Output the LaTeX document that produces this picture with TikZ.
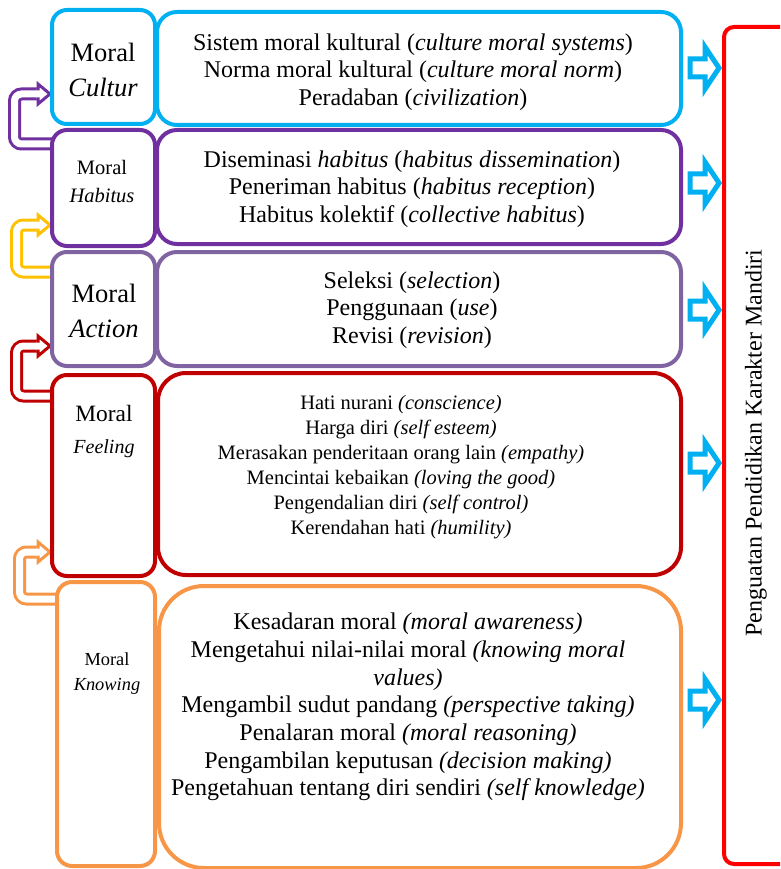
\documentclass[tikz,border=0pt]{standalone}
\usepackage{fontspec}
\setmainfont{Liberation Serif}
\usetikzlibrary{calc}

\definecolor{cCyan}{HTML}{00B0F0}
\definecolor{cPurple}{HTML}{7030A0}
\definecolor{cLav}{HTML}{8064A2}
\definecolor{cDarkRed}{HTML}{C00000}
\definecolor{cOrange}{HTML}{F79646}
\definecolor{cRed}{HTML}{FF0000}
\definecolor{cGold}{HTML}{FFC000}

\newcommand\fs[2]{\fontsize{#1}{#2}\selectfont}

% outlined U-shaped arrow: colour, start point, end point, x of the vertical leg
\newcommand\loopArrow[4]{%
  \draw[line width=3pt, draw=#1, double=white, double distance=7pt, rounded corners=7pt]
    let \p1=#2, \p2=#3 in (\x1+4pt,\y1) -- (#4pt,\y1) -- (#4pt,\y2) -- (\x2-12pt,\y2);
  \filldraw[line width=3pt, draw=#1, fill=white, line join=miter]
    let \p2=#3 in (\x2-13.5pt,\y2+5pt) -- (\x2-12pt,\y2+5pt) -- (\x2-12pt,\y2+10pt)
    -- (\x2,\y2) -- (\x2-12pt,\y2-10pt) -- (\x2-12pt,\y2-5pt) -- (\x2-13.5pt,\y2-5pt);
}

% outlined block arrow from a panel to the goal box at a given height
\newcommand\feedArrow[2]{%
  \draw[feed] let \p1=(#1.east |- 0,#2), \p2=(goal.west |- 0,#2) in
    (\x1+7pt,\y1+9pt) -- (\x2-17pt,\y1+9pt) -- (\x2-17pt,\y1+21pt) -- (\x2-3pt,\y1)
    -- (\x2-17pt,\y1-21pt) -- (\x2-17pt,\y1-9pt) -- (\x1+7pt,\y1-9pt) -- cycle;
}

\begin{document}
\begin{tikzpicture}[x=1pt,y=-1pt,
  panel/.style={draw=#1, line width=4pt, fill=white, inner sep=0pt, anchor=north west},
  lbl/.style={align=center, inner sep=0pt},
  txt/.style={align=center, inner sep=0pt, font=\fs{24}{27.6}},
  feed/.style={draw=cCyan, fill=white, line width=5pt, line join=miter}]
\useasboundingbox (0,0) rectangle (780,869);
\clip (0,0) rectangle (780,869);

% goal box on the right
\node[panel=cRed, rounded corners=10pt, minimum width=90pt, minimum height=837pt] (goal) at (722,25) {};
\node[rotate=90, font=\fs{24}{28}] (goalText) at (756,443) {Penguatan Pendidikan Karakter Mandiri};

% loop arrows between neighbouring levels (drawn first, boxes cover their ends)
\path (50,144) coordinate (habIn) (50,94) coordinate (culIn)
      (50,272) coordinate (actIn) (50,225) coordinate (habIn2)
      (50,396) coordinate (feelIn) (50,346) coordinate (actIn2)
      (55,599) coordinate (knowIn) (50,552) coordinate (feelIn2);
\loopArrow{cPurple}{(habIn)}{(culIn)}{14.5}
\loopArrow{cGold}{(actIn)}{(habIn2)}{16.5}
\loopArrow{cDarkRed}{(feelIn)}{(actIn2)}{16.5}
\loopArrow{cOrange}{(knowIn)}{(feelIn2)}{19.5}

% label column
\node[panel=cCyan, rounded corners=15pt, minimum width=103pt, minimum height=114pt] (culL) at (50,8) {};
\node[panel=cPurple, rounded corners=15pt, minimum width=103pt, minimum height=116pt] (habL) at (50,128) {};
\node[panel=cLav, rounded corners=15pt, minimum width=103pt, minimum height=114pt] (actL) at (50,250) {};
\node[panel=cDarkRed, rounded corners=15pt, minimum width=103pt, minimum height=201pt] (feelL) at (50,373) {};
\node[panel=cOrange, rounded corners=15pt, minimum width=98pt, minimum height=284pt] (knowL) at (55,580) {};

% content column
\node[panel=cCyan, rounded corners=20pt, minimum width=524pt, minimum height=113pt] (culR) at (155,10) {};
\node[panel=cPurple, rounded corners=20pt, minimum width=524pt, minimum height=114pt] (habR) at (155,128) {};
\node[panel=cLav, rounded corners=20pt, minimum width=524pt, minimum height=114pt] (actR) at (155,250) {};
\node[panel=cDarkRed, rounded corners=28pt, minimum width=523pt, minimum height=202pt] (feelR) at (156,371) {};
\node[panel=cOrange, rounded corners=45pt, minimum width=522pt, minimum height=282pt] (knowR) at (157,584) {};

% label texts
\node[lbl, font=\fs{26.5}{35}] (culT) at (103,69.5) {Moral\\\textit{Cultur}};
\node[lbl, font=\fs{20.5}{28}] (habT) at (102,182) {Moral\\\textit{Habitus}};
\node[lbl, font=\fs{26.5}{35}] (actT) at (104,311) {Moral\\\textit{Action}};
\node[lbl, font=\fs{23.4}{32}] (feelT) at (104,432) {Moral\\\fontsize{20}{32}\selectfont\textit{Feeling}};
\node[lbl, font=\fs{18.4}{25}] (knowT) at (107,674) {Moral\\\textit{Knowing}};

% content texts
\node[txt] (culC) at (413,72) {Sistem moral kultural (\textit{culture moral systems})\\
  Norma moral kultural (\textit{culture moral norm})\\
  Peradaban (\textit{civilization})};
\node[txt] (habC) at (412,189) {Diseminasi \textit{habitus} (\textit{habitus dissemination})\\
  Peneriman habitus (\textit{habitus reception})\\
  Habitus kolektif (\textit{collective habitus})};
\node[txt] (actC) at (412,310) {Seleksi (\textit{selection})\\
  Penggunaan (\textit{use})\\
  Revisi (\textit{revision})};
\node[txt, font=\fs{20.5}{25}] (feelC) at (401,467) {Hati nurani \textit{(conscience)}\\
  Harga diri \textit{(self esteem)}\\
  Merasakan penderitaan orang lain \textit{(empathy)}\\
  Mencintai kebaikan \textit{(loving the good)}\\
  Pengendalian diri \textit{(self control)}\\
  Kerendahan hati \textit{(humility)}};
\node[txt, font=\fs{24}{27.7}] (knowC) at (408,707) {Kesadaran moral \textit{(moral awareness)}\\
  Mengetahui nilai-nilai moral \textit{(knowing moral}\\
  \textit{values)}\\
  Mengambil sudut pandang \textit{(perspective taking)}\\
  Penalaran moral \textit{(moral reasoning)}\\
  Pengambilan keputusan \textit{(decision making)}\\
  Pengetahuan tentang diri sendiri \textit{(self knowledge)}};

% arrows into the goal box
\feedArrow{culR}{68}
\feedArrow{habR}{183}
\feedArrow{actR}{310}
\feedArrow{feelR}{463}
\feedArrow{knowR}{700}
\end{tikzpicture}
\end{document}
